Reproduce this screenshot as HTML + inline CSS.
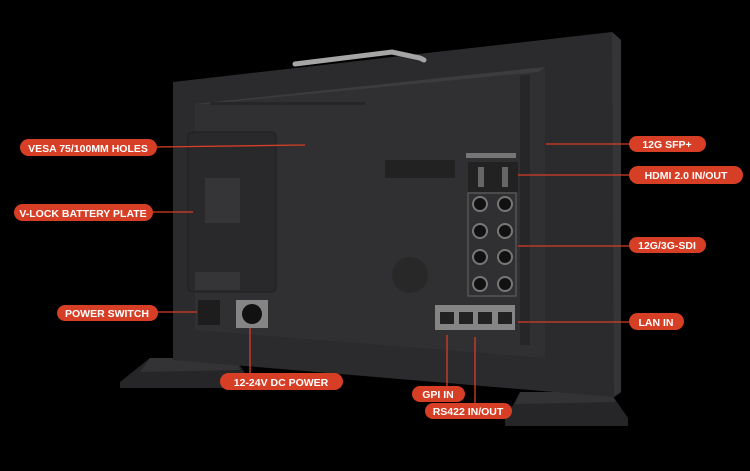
<!DOCTYPE html>
<html><head><style>
html,body{margin:0;padding:0;background:#000;}
svg{display:block}
.l{font-family:"Liberation Sans",sans-serif;font-weight:bold;font-size:10.5px;fill:#fff;text-anchor:middle}
</style></head><body>
<svg width="750" height="471" viewBox="0 0 750 471" xmlns="http://www.w3.org/2000/svg">
<rect width="750" height="471" fill="#000"/>
<!-- stands -->
<polygon points="150,358 235,358 248,378 248,388 120,388 120,382" fill="#262628"/>
<polygon points="150,358 235,358 240,370 140,372" fill="#333335"/>
<polygon points="520,392 610,392 628,418 628,426 505,426 505,420" fill="#262628"/>
<polygon points="520,392 610,392 616,402 515,404" fill="#333335"/>
<!-- body -->
<polygon points="173,82 612,32 621,40 621,392 614,397 173,360" fill="#2b2b2d"/>
<polygon points="612,32 621,40 621,392 614,397" fill="#353537"/>
<!-- inner panel -->
<polygon points="195,104 545,67 545,358 195,330" fill="#303032"/>
<polygon points="195,104 545,67 538,72 205,104" fill="#3c3c3e"/>
<!-- handle -->
<path d="M295,64 L392,52 L420,58 L424,60" stroke="#a5a5a5" stroke-width="5" fill="none" stroke-linecap="round"/>
<!-- vents -->
<g fill="#1c1c1c">
<rect x="210" y="102" width="155" height="3" opacity=".5"/>
<rect x="385" y="160" width="70" height="18" fill="#222"/>
<circle cx="410" cy="275" r="18" fill="#282828"/>
<rect x="520" y="75" width="10" height="270" fill="#262628"/>
</g>
<!-- V-lock plate -->
<rect x="188" y="132" width="88" height="160" rx="4" fill="#29292b" stroke="#1f1f1f"/>
<rect x="205" y="178" width="35" height="45" fill="#353537"/>
<rect x="195" y="272" width="45" height="18" fill="#353537"/>
<!-- power -->
<rect x="198" y="300" width="22" height="25" fill="#1d1d1d"/>
<rect x="236" y="300" width="32" height="28" fill="#858585"/>
<circle cx="252" cy="314" r="10" fill="#111"/>
<!-- connectors -->
<rect x="466" y="153" width="50" height="5" fill="#bbb" opacity=".5"/>
<rect x="468" y="162" width="50" height="30" fill="#222"/>
<rect x="478" y="167" width="6" height="20" fill="#666"/><rect x="502" y="167" width="6" height="20" fill="#666"/>
<rect x="468" y="193" width="48" height="103" fill="none" stroke="#666"/>
<g fill="#111" stroke="#777" stroke-width="2">
<circle cx="480" cy="204" r="7"/><circle cx="505" cy="204" r="7"/>
<circle cx="480" cy="231" r="7"/><circle cx="505" cy="231" r="7"/>
<circle cx="480" cy="257" r="7"/><circle cx="505" cy="257" r="7"/>
<circle cx="480" cy="284" r="7"/><circle cx="505" cy="284" r="7"/>
</g>
<rect x="435" y="305" width="80" height="25" fill="#858585"/>
<g fill="#222"><rect x="440" y="312" width="14" height="12"/><rect x="459" y="312" width="14" height="12"/><rect x="478" y="312" width="14" height="12"/><rect x="498" y="312" width="14" height="12"/></g>
<!-- leader lines -->
<g stroke="#d63e25" stroke-width="1.3" fill="none">
<line x1="156" y1="147" x2="305" y2="145"/>
<line x1="152" y1="212" x2="193" y2="212"/>
<line x1="157" y1="312" x2="197" y2="312"/>
<line x1="250" y1="328" x2="250" y2="373"/>
<line x1="447" y1="335" x2="447" y2="386"/>
<line x1="475" y1="337" x2="475" y2="403"/>
<line x1="546" y1="144" x2="629" y2="144"/>
<line x1="518" y1="175" x2="629" y2="175"/>
<line x1="518" y1="246" x2="629" y2="246"/>
<line x1="518" y1="322" x2="629" y2="322"/>
</g>
<!-- labels -->
<g fill="#d63e25">
<rect x="20" y="139" width="137" height="17" rx="8.5"/>
<rect x="14" y="204" width="139" height="17" rx="8.5"/>
<rect x="57" y="305" width="101" height="16" rx="8"/>
<rect x="220" y="373" width="123" height="17" rx="8.5"/>
<rect x="412" y="386" width="53" height="16" rx="8"/>
<rect x="425" y="403" width="87" height="16" rx="8"/>
<rect x="629" y="136" width="77" height="16" rx="8"/>
<rect x="629" y="166" width="114" height="18" rx="9"/>
<rect x="629" y="237" width="77" height="16" rx="8"/>
<rect x="629" y="313" width="55" height="17" rx="8.5"/>
</g>
<text class="l" x="88" y="152">VESA 75/100MM HOLES</text>
<text class="l" x="83" y="217">V-LOCK BATTERY PLATE</text>
<text class="l" x="107" y="317">POWER SWITCH</text>
<text class="l" x="281" y="386">12-24V DC POWER</text>
<text class="l" x="438" y="398">GPI IN</text>
<text class="l" x="468" y="415">RS422 IN/OUT</text>
<text class="l" x="667" y="148">12G SFP+</text>
<text class="l" x="686" y="179">HDMI 2.0 IN/OUT</text>
<text class="l" x="667" y="249">12G/3G-SDI</text>
<text class="l" x="656" y="326">LAN IN</text>
</svg>
</body></html>
